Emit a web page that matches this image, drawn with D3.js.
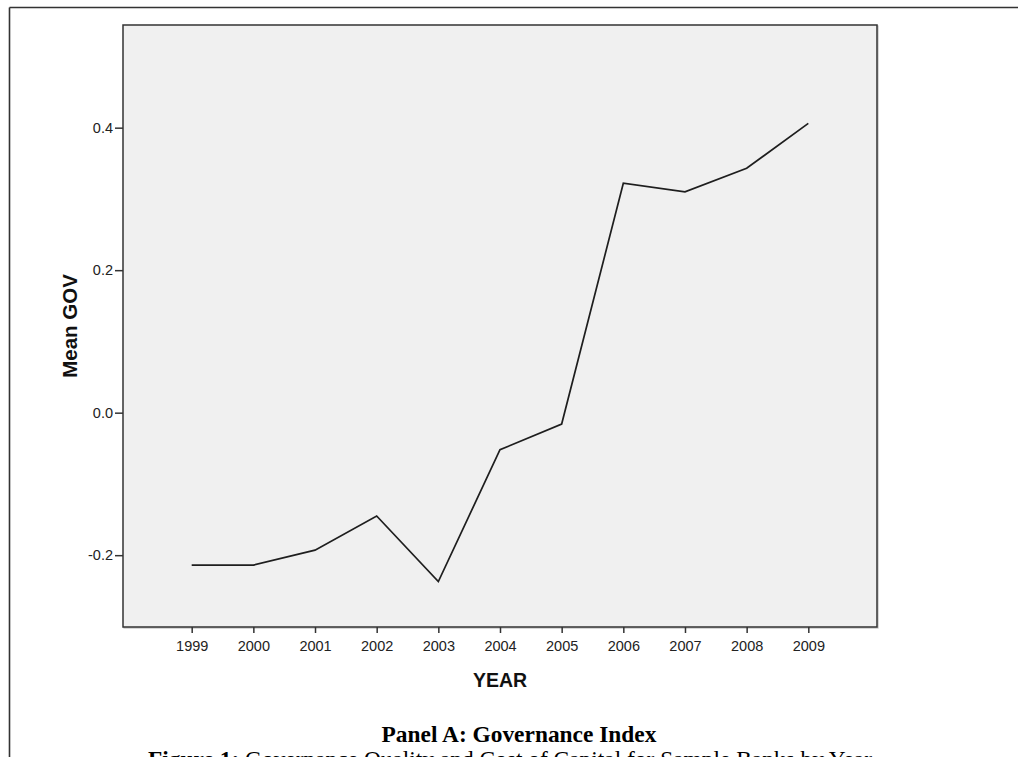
<!DOCTYPE html>
<html>
<head>
<meta charset="utf-8">
<script src="https://cdn.jsdelivr.net/npm/d3@7"></script>
<style>
  html, body { margin: 0; padding: 0; background: #ffffff; }
  svg { display: block; }
</style>
</head>
<body>
<svg id="chart" width="1018" height="757"></svg>
<script>
// ---- data ----
const years = ["1999","2000","2001","2002","2003","2004","2005","2006","2007","2008","2009"];
const meanGov = [-0.214, -0.214, -0.193, -0.145, -0.237, -0.052, -0.016, 0.322, 0.310, 0.343, 0.406];
const yTicks = [-0.2, 0.0, 0.2, 0.4];
const yDomain = [-0.3008, 0.5441];
const xTitle = "YEAR";
const yTitle = "Mean GOV";
const panelTitle = "Panel A: Governance Index";
const figureBold = "Figure 1:";
const figureText = " Governance Quality and Cost of Capital for Sample Banks by Year";

// ---- layout ----
const svg = d3.select("#chart");
const plot = { left: 123, top: 25, right: 877, bottom: 627 };

// outer frame (top & left edges visible)
svg.append("line").attr("x1", 9.5).attr("x2", 1018).attr("y1", 7.5).attr("y2", 7.5)
  .attr("stroke", "#333").attr("stroke-width", 1.6);
svg.append("line").attr("x1", 9.5).attr("x2", 9.5).attr("y1", 7.5).attr("y2", 757)
  .attr("stroke", "#333").attr("stroke-width", 1.6);

const x = d3.scalePoint().domain(years).range([plot.left, plot.right]).padding(1.114);
const y = d3.scaleLinear().domain(yDomain).range([plot.bottom, plot.top]);

// plot background
svg.append("rect")
  .attr("x", plot.left + 1).attr("y", plot.top + 1)
  .attr("width", plot.right - plot.left).attr("height", plot.bottom - plot.top)
  .attr("fill", "none").attr("stroke", "#bdbdbd").attr("stroke-width", 1.2);
svg.append("rect")
  .attr("x", plot.left).attr("y", plot.top)
  .attr("width", plot.right - plot.left).attr("height", plot.bottom - plot.top)
  .attr("fill", "#f0f0f0").attr("stroke", "#333").attr("stroke-width", 1.5);

const fmt = v => d3.format(".1f")(v).replace("\u2212", "-");

// y axis
const yAxis = svg.append("g").attr("transform", `translate(${plot.left},0)`)
  .call(d3.axisLeft(y).tickValues(yTicks).tickFormat(fmt).tickSize(8).tickPadding(2));
yAxis.select(".domain").remove();
yAxis.selectAll(".tick line").attr("stroke", "#333").attr("stroke-width", 1.5);
yAxis.selectAll(".tick text").attr("fill", "#222")
  .style("font-family", "Arial, 'Liberation Sans', sans-serif").style("font-size", "14.5px");

// x axis
const xAxis = svg.append("g").attr("transform", `translate(0,${plot.bottom})`)
  .call(d3.axisBottom(x).tickSize(6).tickPadding(8));
xAxis.select(".domain").remove();
xAxis.selectAll(".tick line").attr("stroke", "#333").attr("stroke-width", 1.5);
xAxis.selectAll(".tick text").attr("fill", "#222")
  .style("font-family", "Arial, 'Liberation Sans', sans-serif").style("font-size", "14.5px");

// line
const line = d3.line().x((d, i) => x(years[i])).y(d => y(d));
svg.append("path").datum(meanGov)
  .attr("d", line).attr("fill", "none")
  .attr("stroke", "#1e1e1e").attr("stroke-width", 1.7).attr("stroke-linejoin", "miter");

// axis titles
svg.append("text")
  .attr("x", (plot.left + plot.right) / 2).attr("y", 687)
  .attr("text-anchor", "middle")
  .style("font-family", "Arial, 'Liberation Sans', sans-serif")
  .style("font-size", "19.5px").style("font-weight", "bold").attr("fill", "#111")
  .text(xTitle);

svg.append("text")
  .attr("transform", `translate(77,${(plot.top + plot.bottom) / 2}) rotate(-90)`)
  .attr("text-anchor", "middle")
  .style("font-family", "Arial, 'Liberation Sans', sans-serif")
  .style("font-size", "20.5px").style("font-weight", "bold").attr("fill", "#111")
  .text(yTitle);

// captions
svg.append("text")
  .attr("x", 519).attr("y", 741.5)
  .attr("text-anchor", "middle")
  .style("font-family", "'Liberation Serif', 'Times New Roman', serif")
  .style("font-size", "23.4px").style("font-weight", "bold").attr("fill", "#000")
  .text(panelTitle);

const cap = svg.append("text")
  .attr("x", 510).attr("y", 767)
  .attr("text-anchor", "middle")
  .style("font-family", "'Liberation Serif', 'Times New Roman', serif")
  .style("font-size", "23.4px").attr("fill", "#000");
cap.append("tspan").style("font-weight", "bold").text(figureBold);
cap.append("tspan").text(figureText);
</script>
</body>
</html>
